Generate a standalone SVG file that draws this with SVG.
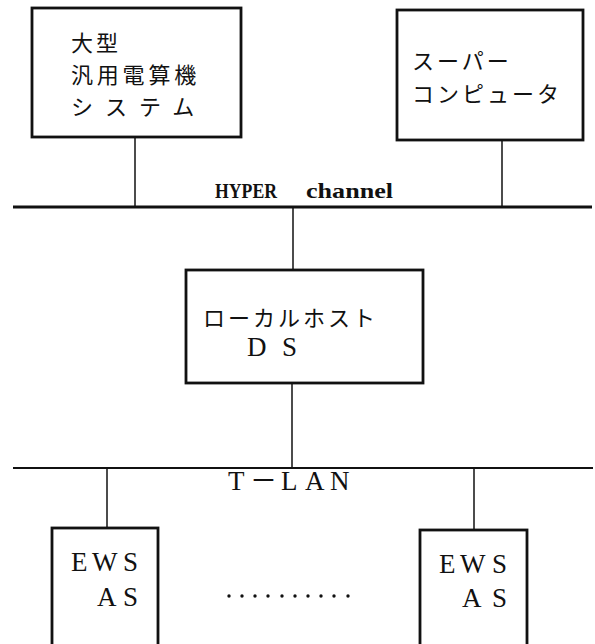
<svg xmlns="http://www.w3.org/2000/svg" width="595" height="644" viewBox="0 0 595 644">
<style>
.box{fill:#fff;stroke:#111;stroke-width:2.8}
.ln{stroke:#111;stroke-width:1.5;fill:none}
.jp{font-family:"Noto Sans CJK JP","Noto Sans",sans-serif;font-size:22px;letter-spacing:3px;fill:#111}
.lat{font-family:"Liberation Serif","Noto Sans CJK JP",serif;font-size:27px;fill:#111}
.hy{font-family:"Liberation Serif",serif;font-size:22px;font-weight:bold;fill:#111}
</style>
<rect width="595" height="644" fill="#fff"/>
<g id="connectors">
<line class="ln" x1="135" y1="137" x2="135" y2="207"/>
<line class="ln" x1="502" y1="140" x2="502" y2="207"/>
<line x1="13" y1="207" x2="592" y2="207" stroke="#111" stroke-width="3"/>
<line class="ln" x1="293" y1="207" x2="293" y2="270"/>
<line class="ln" x1="292" y1="383" x2="292" y2="468"/>
<line x1="13" y1="468" x2="593" y2="468" stroke="#111" stroke-width="2"/>
<line class="ln" x1="107" y1="468" x2="107" y2="528"/>
<line class="ln" x1="474" y1="468" x2="474" y2="530"/>
</g>
<g id="hyper-label">
<text class="hy" x="215" y="198" textLength="62" lengthAdjust="spacingAndGlyphs">HYPER</text>
<text class="hy" x="306" y="198" textLength="87" lengthAdjust="spacingAndGlyphs">channel</text>
</g>
<g id="tlan-label">
<text class="lat" y="490" font-size="26"><tspan x="228">T</tspan><tspan x="250">－</tspan><tspan x="281">L</tspan><tspan x="305">A</tspan><tspan x="330">N</tspan></text>
</g>
<g id="mainframe">
<rect class="box" x="32" y="8" width="209" height="129"/>
<text class="jp" x="71" y="51">大型</text>
<text class="jp" x="71" y="83" style="letter-spacing:3.8px">汎用電算機</text>
<text class="jp" x="71" y="115" style="letter-spacing:12px">システム</text>
</g>
<g id="supercomputer">
<rect class="box" x="397" y="10" width="186" height="130"/>
<text class="jp" x="412" y="69">スーパー</text>
<text class="jp" x="412" y="102">コンピュータ</text>
</g>
<g id="localhost">
<rect class="box" x="186" y="270" width="237" height="113"/>
<text class="jp" x="203" y="326">ローカルホスト</text>
<text class="lat" y="356" font-size="26"><tspan x="247">D</tspan><tspan x="282">S</tspan></text>
</g>
<g id="ews1">
<rect class="box" x="52" y="528" width="106" height="130"/>
<text class="lat" y="571"><tspan x="71">E</tspan><tspan x="92">W</tspan><tspan x="123">S</tspan></text>
<text class="lat" y="606"><tspan x="97">A</tspan><tspan x="123">S</tspan></text>
</g>
<g id="ews2">
<rect class="box" x="420" y="530" width="107" height="130"/>
<text class="lat" y="573"><tspan x="439">E</tspan><tspan x="460">W</tspan><tspan x="492">S</tspan></text>
<text class="lat" y="607"><tspan x="462">A</tspan><tspan x="492">S</tspan></text>
</g>
<g id="ellipsis" fill="#111">
<circle cx="229" cy="596" r="1.7"/><circle cx="242" cy="596" r="1.7"/><circle cx="255" cy="596" r="1.7"/><circle cx="268" cy="596" r="1.7"/><circle cx="282" cy="596" r="1.7"/><circle cx="295" cy="596" r="1.7"/><circle cx="308" cy="596" r="1.7"/><circle cx="321" cy="596" r="1.7"/><circle cx="334" cy="596" r="1.7"/><circle cx="348" cy="596" r="1.7"/>
</g>
</svg>
